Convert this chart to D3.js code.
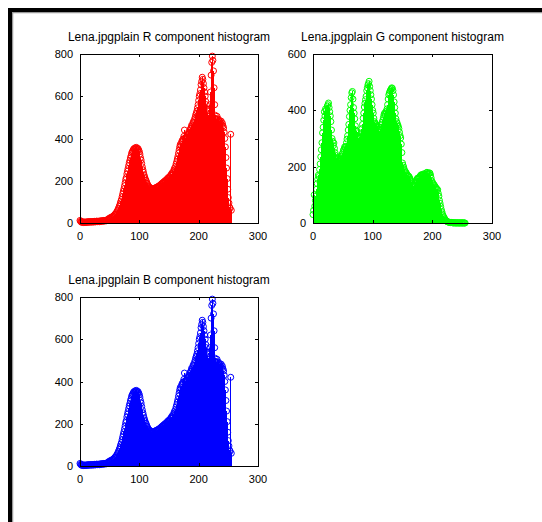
<!DOCTYPE html>
<html>
<head>
<meta charset="utf-8">
<script src="https://cdn.jsdelivr.net/npm/d3@7"></script>
<style>
  html, body { margin: 0; padding: 0; background: #fff; }
  svg { display: block; }
  text { font-family: "Liberation Sans", Arial, sans-serif; fill: #000; }
</style>
</head>
<body>
<svg id="chart"></svg>
<script>
const xTicks = [0, 100, 200, 300];
const yTicksR = [0, 200, 400, 600, 800];
const yTicksG = [0, 200, 400, 600];
const titles = [
  'Lena.jpgplain R component histogram',
  'Lena.jpgplain  G component histogram',
  'Lena.jpgplain B component histogram'
];

// counts per intensity level, 0..255
const redCounts = [
  12, 8, 5, 3, 6, 4, 2, 5, 3, 4,
  3, 5, 4, 6, 3, 5, 7, 4, 6, 5,
  6, 4, 7, 5, 8, 6, 5, 7, 9, 6,
  8, 7, 9, 6, 10, 8, 9, 11, 8, 10,
  12, 9, 11, 13, 10, 14, 12, 15, 18, 22,
  20, 25, 23, 28, 26, 30, 33, 31, 38, 42,
  40, 48, 52, 58, 63, 70, 78, 85, 95, 104,
  112, 125, 138, 150, 162, 176, 190, 205, 215, 232,
  245, 258, 272, 285, 296, 308, 318, 330, 336, 342,
  348, 352, 346, 356, 350, 358, 354, 348, 352, 344,
  338, 326, 310, 298, 282, 266, 252, 240, 228, 218,
  210, 202, 196, 188, 182, 176, 172, 170, 166, 164,
  162, 160, 158, 162, 160, 164, 162, 166, 168, 165,
  170, 172, 168, 175, 178, 174, 180, 185, 182, 190,
  188, 195, 192, 198, 202, 196, 205, 210, 204, 215,
  212, 220, 218, 226, 232, 228, 240, 236, 248, 258,
  252, 268, 280, 290, 302, 315, 330, 345, 360, 372,
  365, 380, 390, 386, 398, 410, 440, 402, 395, 405,
  412, 408, 420, 430, 425, 438, 445, 450, 462, 458,
  470, 480, 476, 490, 500, 512, 520, 530, 545, 560,
  580, 600, 612, 630, 655, 670, 690, 680, 660, 640,
  620, 600, 575, 560, 540, 520, 505, 510, 530, 560,
  620, 700, 760, 790, 770, 720, 640, 560, 510, 495,
  490, 505, 480, 492, 470, 485, 478, 470, 482, 465,
  472, 460, 450, 430, 400, 360, 310, 260, 210, 160,
  120, 95, 75, 70, 420, 60
];

const greenCounts = [
  30, 45, 100, 60, 80, 95, 120, 140, 155, 170,
  165, 190, 210, 235, 260, 285, 320, 340, 365, 395,
  380, 405, 400, 390, 415, 420, 426, 410, 395, 380,
  360, 330, 300, 290, 275, 284, 265, 250, 240, 232,
  225, 230, 220, 228, 218, 225, 236, 230, 238, 245,
  250, 258, 262, 270, 268, 272, 285, 298, 310, 330,
  350, 378, 400, 420, 445, 462, 467, 440, 410, 390,
  370, 345, 330, 325, 320, 310, 302, 298, 305, 300,
  307, 320, 335, 350, 372, 390, 412, 425, 438, 450,
  470, 480, 490, 495, 503, 485, 470, 455, 440, 420,
  400, 390, 372, 360, 355, 348, 350, 345, 343, 335,
  330, 325, 322, 330, 340, 350, 358, 365, 375, 385,
  390, 385, 395, 396, 405, 420, 440, 455, 462, 468,
  472, 476, 480, 478, 470, 455, 430, 410, 390, 370,
  360, 355, 348, 343, 335, 322, 310, 302, 280, 250,
  213, 205, 198, 190, 185, 182, 178, 175, 170, 168,
  166, 165, 160, 155, 150, 145, 140, 136, 132, 130,
  135, 140, 145, 150, 155, 158, 160, 160, 162, 165,
  168, 170, 172, 170, 168, 172, 175, 170, 168, 172,
  178, 180, 176, 172, 175, 178, 177, 170, 160, 150,
  145, 140, 138, 135, 132, 128, 125, 122, 120, 118,
  105, 95, 80, 70, 59, 48, 40, 32, 26, 22,
  18, 14, 10, 8, 6, 5, 4, 3, 3, 2,
  2, 1, 2, 1, 1, 0, 1, 0, 1, 0,
  0, 1, 0, 0, 1, 0, 0, 0, 1, 0,
  0, 0, 1, 0, 0, 0
];

// the blue plot in the picture is the same histogram as the red one
const blueCounts = redCounts.slice();

const W = 542, H = 522;
const svg = d3.select('#chart').attr('width', W).attr('height', H);

// window frame
svg.append('path')
  .attr('d', 'M12.5,522V12.5H542')
  .attr('fill', 'none').attr('stroke', '#999').attr('stroke-width', 1.5);
svg.append('path')
  .attr('d', 'M10,522V10H542')
  .attr('fill', 'none').attr('stroke', '#000').attr('stroke-width', 4);

function panel(counts, color, yMax, yTicks, title, left, right, top, bottom) {
  const x = d3.scaleLinear().domain([0, 300]).range([left, right]);
  const y = d3.scaleLinear().domain([0, yMax]).range([bottom, top]);
  const g = svg.append('g');

  g.selectAll('line.stem')
    .data(counts)
    .join('line')
    .attr('class', 'stem')
    .attr('x1', (d, i) => x(i)).attr('x2', (d, i) => x(i))
    .attr('y1', y(0)).attr('y2', d => y(d))
    .attr('stroke', color).attr('stroke-width', 1)
    .attr('shape-rendering', 'crispEdges');

  g.selectAll('circle')
    .data(counts)
    .join('circle')
    .attr('cx', (d, i) => x(i)).attr('cy', d => y(d))
    .attr('r', 3)
    .attr('fill', 'none').attr('stroke', color).attr('stroke-width', 1);

  // ticks point inward on all four sides
  const tl = 3;
  g.append('g').attr('transform', `translate(0,${bottom})`)
    .call(d3.axisTop(x).tickValues(xTicks).tickSize(tl).tickFormat(''));
  g.append('g').attr('transform', `translate(0,${top})`)
    .call(d3.axisBottom(x).tickValues(xTicks).tickSize(tl).tickFormat(''));
  g.append('g').attr('transform', `translate(${left},0)`)
    .call(d3.axisRight(y).tickValues(yTicks).tickSize(tl).tickFormat(''));
  g.append('g').attr('transform', `translate(${right},0)`)
    .call(d3.axisLeft(y).tickValues(yTicks).tickSize(tl).tickFormat(''));
  g.selectAll('.domain').remove();
  g.selectAll('.tick line').attr('stroke', '#000').attr('shape-rendering', 'crispEdges');

  g.append('rect')
    .attr('x', left).attr('y', top)
    .attr('width', right - left).attr('height', bottom - top)
    .attr('fill', 'none').attr('stroke', '#000').attr('stroke-width', 1)
    .attr('shape-rendering', 'crispEdges');

  g.selectAll('text.xl')
    .data(xTicks)
    .join('text')
    .attr('class', 'xl')
    .attr('x', d => x(d)).attr('y', bottom + 17)
    .attr('text-anchor', 'middle').attr('font-size', 11)
    .text(d => d);

  g.selectAll('text.yl')
    .data(yTicks)
    .join('text')
    .attr('class', 'yl')
    .attr('x', left - 7).attr('y', d => y(d) + 4)
    .attr('text-anchor', 'end').attr('font-size', 11)
    .text(d => d);

  g.append('text')
    .attr('x', (left + right) / 2).attr('y', top - 13)
    .attr('text-anchor', 'middle').attr('font-size', 12)
    .text(title);
}

panel(redCounts, '#ff0000', 800, yTicksR, titles[0], 80, 258, 54, 223);
panel(greenCounts, '#00ff00', 600, yTicksG, titles[1], 313, 492, 54, 223);
panel(blueCounts, '#0000ff', 800, yTicksR, titles[2], 80, 258, 297, 466);
</script>
</body>
</html>
